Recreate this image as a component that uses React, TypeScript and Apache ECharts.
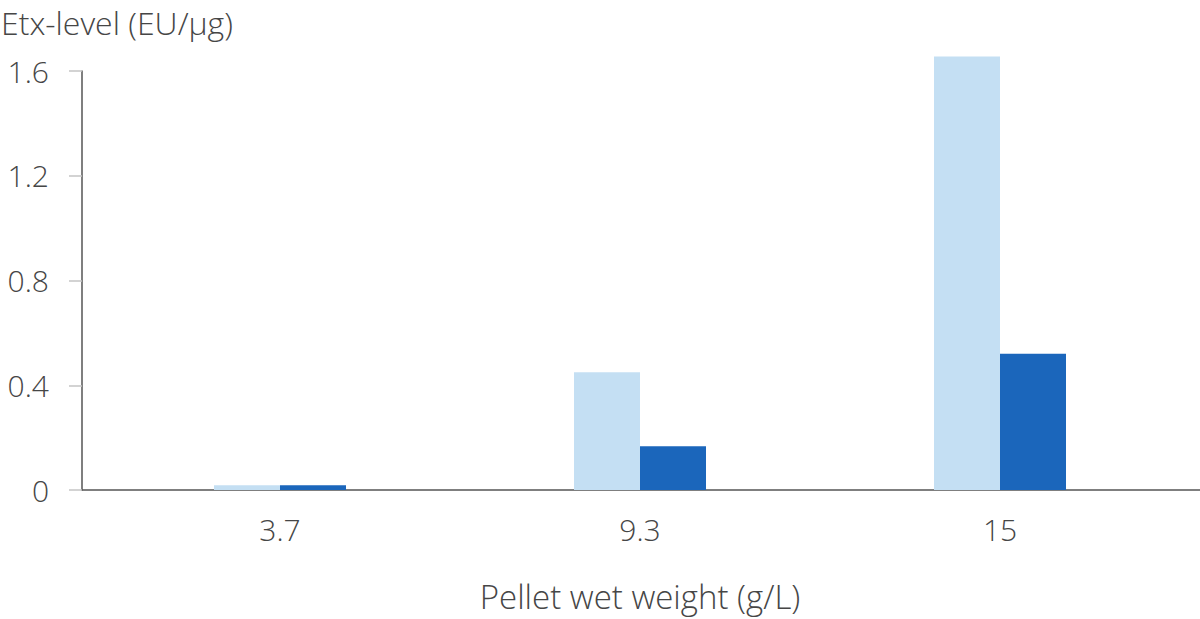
import React, { useEffect, useRef } from "react";
import * as echarts from "echarts";

const categories = ["3.7", "9.3", "15"];
const lightSeries = [0.018, 0.45, 1.655];
const darkSeries = [0.018, 0.167, 0.52];
const yTicks = [0, 0.4, 0.8, 1.2, 1.6];

const FONT = "'Open Sans', Lato, sans-serif";
const TEXT = "#464646";
const WEIGHT = 300;

export default function App() {
  const ref = useRef<HTMLDivElement>(null);
  useEffect(() => {
    if (!ref.current) return;
    const chart = echarts.init(ref.current, null, { renderer: "svg" });
    chart.setOption({
      animation: false,
      backgroundColor: "#ffffff",
      textStyle: { fontFamily: FONT },
      title: {
        text: "Etx-level (EU/µg)",
        left: 1,
        top: 5,
        padding: 0,
        textStyle: { fontFamily: FONT, fontSize: 32, fontWeight: WEIGHT, color: TEXT, lineHeight: 34 },
      },
      grid: [
        { left: 100, right: 20, top: 71, bottom: 129, containLabel: false },
        { left: 82, right: 0, top: 71, bottom: 129, containLabel: false },
      ],
      xAxis: [
        {
          type: "category",
          gridIndex: 0,
          data: categories,
          axisLine: { show: false },
          axisTick: { show: false },
          axisLabel: { fontFamily: FONT, fontSize: 30, fontWeight: WEIGHT, color: TEXT, margin: 24 },
          name: "Pellet wet weight (g/L)",
          nameLocation: "middle",
          nameGap: 90,
          nameTextStyle: { fontFamily: FONT, fontSize: 33, fontWeight: WEIGHT, color: TEXT },
        },
        {
          type: "value",
          gridIndex: 1,
          min: 0,
          max: 1,
          axisLine: { show: true, lineStyle: { color: "#555555", width: 1.5 } },
          axisTick: { show: false },
          axisLabel: { show: false },
          splitLine: { show: false },
        },
      ],
      yAxis: [
        {
          type: "value",
          gridIndex: 0,
          min: yTicks[0],
          max: yTicks[yTicks.length - 1],
          interval: 0.4,
          offset: 18,
          axisLine: { show: true, lineStyle: { color: "#555555", width: 1.5 } },
          axisTick: { show: true, length: 13, lineStyle: { color: "#c4c4c4", width: 1.5 } },
          axisLabel: {
            fontFamily: FONT,
            fontSize: 30,
            fontWeight: WEIGHT,
            color: TEXT,
            margin: 33,
            formatter: (v: number) => (v === 0 ? "0" : v.toFixed(1)),
          },
          splitLine: { show: false },
        },
        { type: "value", gridIndex: 1, show: false, min: 0, max: 1 },
      ],
      series: [
        {
          type: "bar",
          xAxisIndex: 0,
          yAxisIndex: 0,
          data: lightSeries,
          barWidth: 66,
          barGap: "0%",
          clip: false,
          itemStyle: { color: "#c4dff3" },
        },
        {
          type: "bar",
          xAxisIndex: 0,
          yAxisIndex: 0,
          data: darkSeries,
          barWidth: 66,
          barGap: "0%",
          clip: false,
          itemStyle: { color: "#1b66bb" },
        },
      ],
    });
    return () => chart.dispose();
  }, []);
  return (
    <div
      ref={ref}
      style={{ position: "fixed", left: 0, top: 0, width: 1200, height: 619 }}
    />
  );
}
